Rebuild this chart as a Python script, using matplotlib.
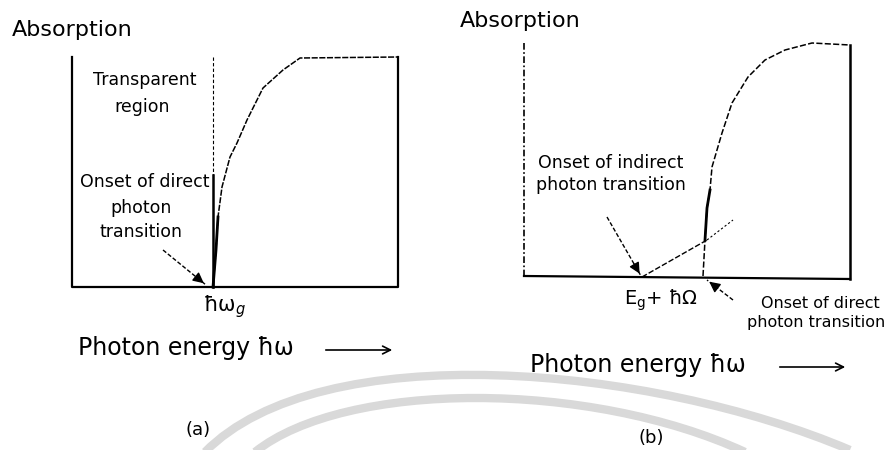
import matplotlib.pyplot as plt
from matplotlib.path import Path
from matplotlib.patches import PathPatch

# panel (a): direct gap
a_frame_x = [72, 72, 398, 398]
a_frame_y = [57, 287, 287, 57]
a_curve_x = [213, 216, 218, 222, 230, 237, 247, 263, 283, 300, 398]
a_curve_y = [287, 250, 217, 187, 157, 143, 120, 88, 70, 58, 57]
a_edge_x = 213
a_edge_top = 57
a_edge_solid = 175

# panel (b): indirect gap
b_left_x = 524
b_left_y = [43, 276]
b_base_x = [524, 850]
b_base_y = [276, 279]
b_right_x = 850
b_right_y = [45, 279]
b_curve_x = [703, 705, 707, 710, 712, 722, 732, 748, 765, 785, 812, 850]
b_curve_y = [276, 240, 208, 190, 167, 133, 103, 77, 60, 50, 43, 45]
b_indirect_x = [642, 707, 733]
b_indirect_y = [277, 240, 220]

# watermark arcs (cubic bezier control points)
wm_outer = [(205, 452), (320, 335), (650, 365), (850, 450)]
wm_inner = [(255, 452), (345, 380), (590, 380), (745, 452)]

fig = plt.figure(figsize=(8.9, 4.5), dpi=100)
ax = fig.add_axes([0, 0, 1, 1])
ax.set_xlim(0, 890)
ax.set_ylim(450, 0)
ax.axis('off')

for pts in (wm_outer, wm_inner):
  p = Path(pts, [Path.MOVETO, Path.CURVE4, Path.CURVE4, Path.CURVE4])
  ax.add_patch(PathPatch(p, fc='none', ec='#d9d9d9', lw=6, capstyle='butt', zorder=0))

k = 'black'

def arrow(x0, y0, x1, y1):
  # dotted shaft with a filled head at the tip
  ax.plot([x0, x1], [y0, y1], color=k, lw=1, ls=(0, (3, 1.5)))
  dx, dy = x1 - x0, y1 - y0
  ax.annotate('', xy=(x1, y1), xytext=(x1 - dx * 0.25, y1 - dy * 0.25),
              arrowprops=dict(arrowstyle='-|>', color=k, lw=1, mutation_scale=16))

# ---- panel (a)
ax.plot(a_frame_x, a_frame_y, color=k, lw=1.6)
ax.plot(a_curve_x, a_curve_y, color=k, lw=1.1, ls=(0, (4, 1)))
ax.plot(a_curve_x[:3], a_curve_y[:3], color=k, lw=2)
ax.plot([a_edge_x, a_edge_x], [a_edge_top, a_edge_solid], color=k, lw=0.8, ls=(0, (3, 2)))
ax.plot([a_edge_x, a_edge_x], [a_edge_solid, a_frame_y[1]], color=k, lw=1.8)
arrow(163, 250, 206, 285)

fs_small = 12.5
ax.text(12, 30, 'Absorption', fontsize=16, va='center', ha='left')
ax.text(145, 80, 'Transparent', fontsize=fs_small, ha='center', va='center')
ax.text(142, 107, 'region', fontsize=fs_small, ha='center', va='center')
ax.text(145, 182, 'Onset of direct', fontsize=fs_small, ha='center', va='center')
ax.text(141, 208, 'photon', fontsize=fs_small, ha='center', va='center')
ax.text(141, 232, 'transition', fontsize=fs_small, ha='center', va='center')
ax.text(224, 307, 'ħω$_g$', fontsize=15, ha='center', va='center')
ax.text(78, 348, 'Photon energy ħω', fontsize=17, ha='left', va='center')
ax.annotate('', xy=(395, 350), xytext=(323, 350),
            arrowprops=dict(arrowstyle='->', color=k, lw=1.2, mutation_scale=14))
ax.text(198, 430, '(a)', fontsize=13, ha='center', va='center')

# ---- panel (b)
ax.plot([b_left_x, b_left_x], b_left_y, color=k, lw=1.2, ls=(0, (4, 1.5, 1, 1.5)))
ax.plot(b_base_x, b_base_y, color=k, lw=1.6)
ax.plot([b_right_x, b_right_x], b_right_y, color=k, lw=1.8)
ax.plot(b_curve_x, b_curve_y, color=k, lw=1.1, ls=(0, (4, 1.5)))
ax.plot(b_curve_x[1:4], b_curve_y[1:4], color=k, lw=2)
ax.plot(b_indirect_x[:2], b_indirect_y[:2], color=k, lw=1, ls=(0, (4, 1.5)))
ax.plot(b_indirect_x[1:], b_indirect_y[1:], color=k, lw=0.8, ls=(0, (2, 2)))
arrow(607, 217, 641, 276)
arrow(733, 300, 707, 280)

ax.text(460, 21, 'Absorption', fontsize=16, va='center', ha='left')
ax.text(611, 163, 'Onset of indirect', fontsize=fs_small, ha='center', va='center')
ax.text(611, 185, 'photon transition', fontsize=fs_small, ha='center', va='center')
ax.text(661, 300, '$\\mathregular{E_g}$+ ħΩ', fontsize=14, ha='center', va='center')
ax.text(820, 303, 'Onset of direct', fontsize=11.5, ha='center', va='center')
ax.text(816, 323, 'photon transition', fontsize=11.5, ha='center', va='center')
ax.text(530, 365, 'Photon energy ħω', fontsize=17, ha='left', va='center')
ax.annotate('', xy=(848, 367), xytext=(777, 367),
            arrowprops=dict(arrowstyle='->', color=k, lw=1.2, mutation_scale=14))
ax.text(651, 438, '(b)', fontsize=13, ha='center', va='center')

fig.savefig('out.png', dpi=100)
